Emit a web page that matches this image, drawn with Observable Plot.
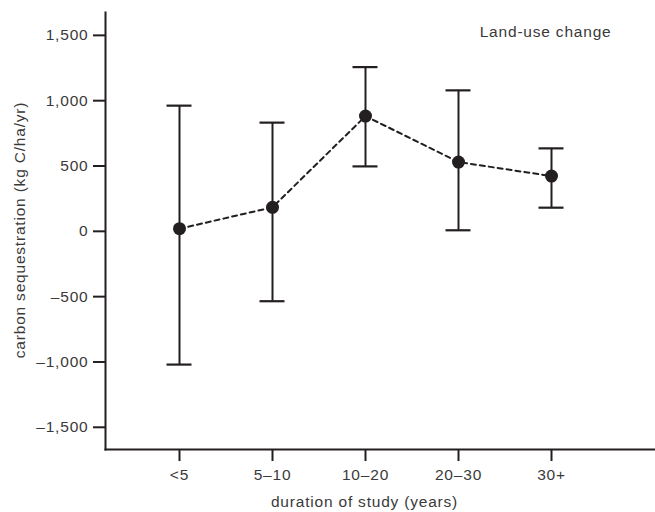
<!DOCTYPE html>
<html>
<head>
<meta charset="utf-8">
<script src="https://cdn.jsdelivr.net/npm/d3@7"></script>
<script src="https://cdn.jsdelivr.net/npm/@observablehq/plot@0.6"></script>
<style>
  html, body { margin: 0; padding: 0; background: #fff; }
  #chart svg { display: block; }
  #chart svg text { letter-spacing: 0.8px; }
</style>
</head>
<body>
<div id="chart"></div>
<script>
const categories = ["<5", "5\u201310", "10\u201320", "20\u201330", "30+"];
const means = [20, 184, 882, 530, 423];
const lower = [-1020, -535, 497, 8, 181];
const upper = [962, 832, 1257, 1079, 635];
const yTicks = [-1500, -1000, -500, 0, 500, 1000, 1500];
const yDomain = [-1670, 1675];
const title = "Land-use change";
const xLabel = "duration of study (years)";
const yLabel = "carbon sequestration (kg C/ha/yr)";

const data = categories.map((c, i) => ({cat: c, mean: means[i], lo: lower[i], hi: upper[i]}));
const ink = "#231f20";
const txt = "#3a3a3a";
const fmt = d => d3.format(",")(d).replace("\u2212", "\u2013").replace("-", "\u2013");

const chart = Plot.plot({
  width: 655,
  height: 512,
  marginLeft: 105,
  marginRight: 0,
  marginTop: 12,
  marginBottom: 63,
  style: {fontFamily: "'Liberation Sans', Arial, sans-serif", fontSize: "15.5px", color: txt, background: "#fff"},
  x: {type: "point", domain: categories, range: [178, 551], padding: 0, axis: null},
  y: {domain: yDomain, axis: null},
  marks: [
    Plot.frame({anchor: "left", stroke: ink, strokeWidth: 2}),
    Plot.frame({anchor: "bottom", stroke: ink, strokeWidth: 2}),
    Plot.axisY({ticks: yTicks, tickSize: 12, tickPadding: 5, tickFormat: fmt, label: null, stroke: ink, strokeWidth: 2, fill: txt}),
    Plot.axisX({tickSize: 12, tickPadding: 7, label: null, stroke: ink, strokeWidth: 2, fill: txt}),
    Plot.ruleX(data, {x: "cat", y1: "lo", y2: "hi", stroke: ink, strokeWidth: 2}),
    Plot.ruleY(data, {y: "hi", x1: "cat", x2: "cat", insetLeft: -12.5, insetRight: -12.5, stroke: ink, strokeWidth: 2.2}),
    Plot.ruleY(data, {y: "lo", x1: "cat", x2: "cat", insetLeft: -12.5, insetRight: -12.5, stroke: ink, strokeWidth: 2.2}),
    Plot.line(data, {x: "cat", y: "mean", stroke: ink, strokeWidth: 2, strokeDasharray: "5,4"}),
    Plot.dot(data, {x: "cat", y: "mean", r: 6.5, fill: ink, stroke: "none"}),
    Plot.text([title], {frameAnchor: "top-right", textAnchor: "end", lineAnchor: "middle", dx: -44, dy: 20, fill: txt, fontSize: 15.5}),
    Plot.text([xLabel], {frameAnchor: "bottom", textAnchor: "middle", lineAnchor: "middle", dx: -16, dy: 53, fill: txt, fontSize: 15.5}),
    Plot.text([yLabel], {frameAnchor: "left", textAnchor: "middle", rotate: -90, lineAnchor: "middle", dx: -85, dy: -1, fill: txt, fontSize: 15.5})
  ]
});
document.getElementById("chart").appendChild(chart);
</script>
</body>
</html>
